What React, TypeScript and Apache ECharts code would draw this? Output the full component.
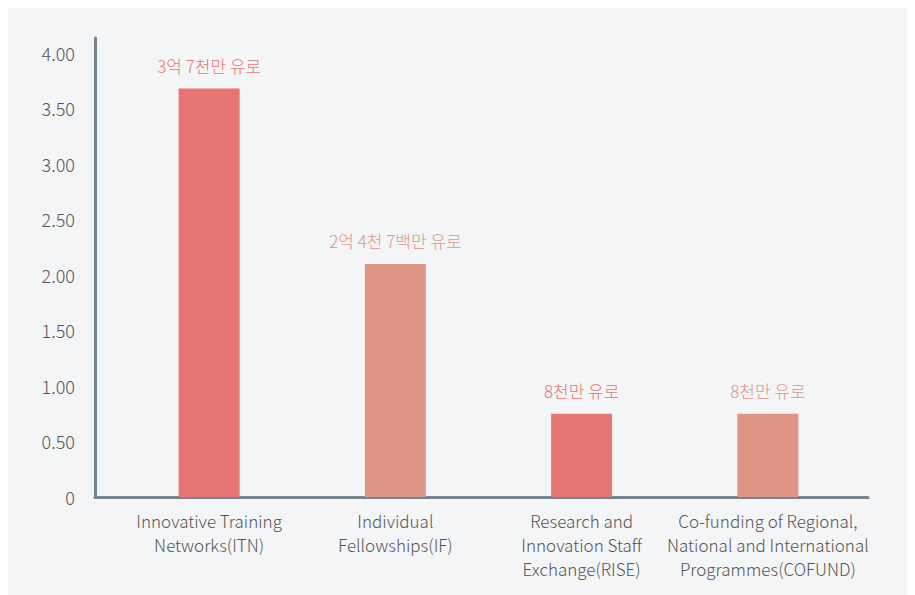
import React, { useEffect, useRef } from "react";
import * as echarts from "echarts";

const categories = [
  "Innovative Training\nNetworks(ITN)",
  "Individual\nFellowships(IF)",
  "Research and\nInnovation Staff\nExchange(RISE)",
  "Co-funding of Regional,\nNational and International\nProgrammes(COFUND)",
];
const values = [3.68, 2.1, 0.75, 0.75];
const valueLabels = ["3억 7천만 유로", "2억 4천 7백만 유로", "8천만 유로", "8천만 유로"];
const barColors = ["#e77573", "#de9585", "#e77573", "#de9585"];
const yMax = 4.135;

const FONT = "'Noto Sans CJK KR', 'Noto Sans', sans-serif";

export default function App() {
  const ref = useRef<HTMLDivElement>(null);
  useEffect(() => {
    if (!ref.current) return;
    const chart = echarts.init(ref.current, undefined, { renderer: "svg" });
    chart.setOption({
      animation: false,
      backgroundColor: "#f4f5f7",
      grid: [
        { left: 87, right: 39, top: 30, bottom: 98 },
        { left: 108, right: 46, top: 30, bottom: 98 },
      ],
      xAxis: [
        {
          type: "value",
          gridIndex: 0,
          min: 0,
          max: 1,
          axisLine: { show: true, lineStyle: { color: "#738590", width: 3 } },
          axisTick: { show: false },
          axisLabel: { show: false },
          splitLine: { show: false },
        },
        {
          type: "category",
          gridIndex: 1,
          data: categories,
          axisLine: { show: false },
          axisTick: { show: false },
          axisLabel: {
            color: "#555555",
            fontSize: 17,
            fontWeight: 300,
            fontFamily: FONT,
            lineHeight: 24,
            margin: 11,
            interval: 0,
          },
        },
      ],
      yAxis: [
        {
          type: "value",
          gridIndex: 0,
          min: 0,
          max: yMax,
          interval: 0.5,
          axisLine: { show: true, lineStyle: { color: "#738590", width: 3 } },
          axisTick: { show: false },
          splitLine: { show: false },
          axisLabel: {
            color: "#555555",
            fontSize: 18,
            fontWeight: 300,
            fontFamily: FONT,
            margin: 20,
            showMaxLabel: false,
            formatter: (v: number) => (v === 0 ? "0" : v.toFixed(2)),
          },
        },
        {
          type: "value",
          gridIndex: 1,
          min: 0,
          max: yMax,
          show: false,
        },
      ],
      series: [
        {
          type: "bar",
          xAxisIndex: 1,
          yAxisIndex: 1,
          barWidth: 61,
          data: values.map((v, i) => ({
            value: v,
            itemStyle: { color: barColors[i] },
            label: {
              show: true,
              position: "top",
              distance: 15,
              formatter: valueLabels[i],
              color: barColors[i],
              fontSize: 17,
              fontWeight: 300,
              fontFamily: FONT,
            },
          })),
        },
      ],
    });
    return () => chart.dispose();
  }, []);
  return <div ref={ref} style={{ width: 899, height: 587 }} />;
}
